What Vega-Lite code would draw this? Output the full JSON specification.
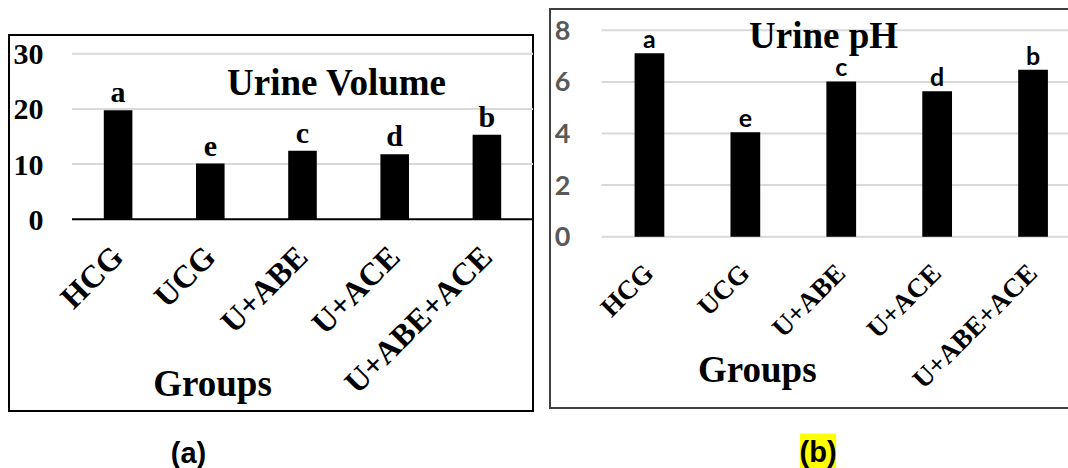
{
  "$schema": "https://vega.github.io/schema/vega-lite/v6.json",
  "padding": {"left": 8, "top": 8, "right": 0, "bottom": 0},
  "spacing": 14,
  "background": "white",
  "config": {
    "axis": {"grid": false, "domain": false, "ticks": false, "tickSize": 0, "labelLimit": 0}
  },
  "hconcat": [
    {
      "spacing": 0,
      "vconcat": [
        {
          "width": 524,
          "height": 25,
          "view": {"stroke": null},
          "data": {"values": []},
          "mark": "point"
        },
        {
          "width": 524,
          "height": 376,
          "view": {"stroke": "#000000", "strokeWidth": 2},
          "layer": [
            {
              "data": {"values": [{"v": 10}, {"v": 20}, {"v": 30}]},
              "mark": {"type": "rule", "color": "#d9d9d9", "strokeWidth": 2},
              "encoding": {
                "y": {
                  "field": "v", "type": "quantitative",
                  "scale": {"domain": [-34.73, 33.39], "nice": false, "zero": false},
                  "axis": {"values": [0, 10, 20, 30], "title": null, "offset": -35, "labelPadding": 1,
                           "labelFont": "Liberation Serif", "labelFontWeight": "bold", "labelFontSize": 30,
                           "labelColor": "#000000", "labelOffset": 1}
                },
                "x": {
                  "datum": "HCG", "type": "nominal", "bandPosition": 0,
                  "scale": {"domain": ["HCG", "UCG", "U+ABE", "U+ACE", "U+ABE+ACE"], "paddingInner": 0, "paddingOuter": 0.3416, "align": 1},
                  "axis": {"title": "Groups", "offset": -191.7, "labelAngle": -45, "labelAlign": "right", "labelBaseline": "middle",
                           "labelPadding": 32, "labelFont": "Liberation Serif", "labelFontWeight": "bold", "labelFontSize": 32,
                           "labelColor": "#000000", "labelLimit": 0, "titleFont": "Liberation Serif", "titleFontWeight": "bold", "titleFontSize": 37,
                           "titleColor": "#000000", "titleX": 203, "titleY": 175.7, "titleAlign": "center", "titleBaseline": "alphabetic"}
                },
                "x2": {"value": "width"}
              }
            },
            {
              "data": {"values": [{"v": 0}]},
              "mark": {"type": "rule", "color": "#000000", "strokeWidth": 2},
              "encoding": {
                "y": {"field": "v", "type": "quantitative", "title": null},
                "x": {"datum": "HCG", "type": "nominal", "bandPosition": 0},
                "x2": {"value": "width"}
              }
            },
            {
              "data": {"values": [
                {"group": "HCG", "value": 19.75, "letter": "a"},
                {"group": "UCG", "value": 10.1, "letter": "e"},
                {"group": "U+ABE", "value": 12.4, "letter": "c"},
                {"group": "U+ACE", "value": 11.8, "letter": "d"},
                {"group": "U+ABE+ACE", "value": 15.3, "letter": "b"}
              ]},
              "layer": [
                {
                  "mark": {"type": "bar", "color": "#000000", "width": {"band": 0.31}},
                  "encoding": {
                    "x": {"field": "group", "type": "nominal", "sort": null},
                    "y": {"field": "value", "type": "quantitative", "title": null},
                    "y2": {"datum": 0}
                  }
                },
                {
                  "mark": {"type": "text", "font": "Liberation Serif", "fontWeight": "bold", "fontSize": 30, "baseline": "alphabetic", "dy": -8, "color": "#000000"},
                  "encoding": {
                    "x": {"field": "group", "type": "nominal", "sort": null},
                    "y": {"field": "value", "type": "quantitative", "title": null},
                    "text": {"field": "letter"}
                  }
                }
              ]
            },
            {
              "data": {"values": [{"t": "Urine Volume"}]},
              "mark": {"type": "text", "font": "Liberation Serif", "fontWeight": "bold", "fontSize": 37, "baseline": "alphabetic", "align": "center", "color": "#000000"},
              "encoding": {
                "x": {"datum": "U+ABE", "type": "nominal", "bandPosition": 0.869},
                "y": {"datum": 22.46, "type": "quantitative"},
                "text": {"field": "t"}
              }
            },
            {
              "data": {"values": [{"t": "(a)"}]},
              "mark": {"type": "text", "font": "Liberation Sans Narrow, Liberation Sans", "fontWeight": "bold", "fontSize": 29, "baseline": "middle", "align": "center", "color": "#000000"},
              "encoding": {
                "x": {"datum": "UCG", "type": "nominal", "bandPosition": 0.264},
                "y": {"datum": -42.5, "type": "quantitative"},
                "text": {"field": "t"}
              }
            }
          ]
        }
      ]
    },
    {
      "width": 531,
      "height": 399,
      "view": {"stroke": "#404040", "strokeWidth": 2},
      "layer": [
        {
          "data": {"values": [{"v": 0}, {"v": 2}, {"v": 4}, {"v": 6}, {"v": 8}]},
          "mark": {"type": "rule", "color": "#d9d9d9", "strokeWidth": 2},
          "encoding": {
            "y": {
              "field": "v", "type": "quantitative",
              "scale": {"domain": [-6.64, 8.826], "nice": false, "zero": false},
              "axis": {"values": [0, 2, 4, 6, 8], "title": null, "offset": -21, "labelPadding": 1,
                       "labelFont": "Lato", "labelFontWeight": "bold", "labelFontSize": 27,
                       "labelColor": "#595959", "labelOffset": 1}
            },
            "x": {
              "datum": "HCG", "type": "nominal", "bandPosition": 0,
              "scale": {"domain": ["HCG", "UCG", "U+ABE", "U+ACE", "U+ABE+ACE"], "paddingInner": 0, "paddingOuter": 0.2685, "align": 1},
              "axis": {"title": "Groups", "offset": -171.3, "labelAngle": -45, "labelAlign": "right", "labelBaseline": "middle",
                       "labelPadding": 32, "labelFont": "Liberation Serif", "labelFontWeight": "bold", "labelFontSize": 27,
                       "labelColor": "#000000", "labelLimit": 0, "titleFont": "Liberation Serif", "titleFontWeight": "bold", "titleFontSize": 37,
                       "titleColor": "#000000", "titleX": 206.8, "titleY": 144.3, "titleAlign": "center", "titleBaseline": "alphabetic"}
            },
            "x2": {"value": "width"}
          }
        },
        {
          "data": {"values": [
            {"group": "HCG", "value": 7.11, "letter": "a"},
            {"group": "UCG", "value": 4.05, "letter": "e"},
            {"group": "U+ABE", "value": 6.02, "letter": "c"},
            {"group": "U+ACE", "value": 5.64, "letter": "d"},
            {"group": "U+ABE+ACE", "value": 6.47, "letter": "b"}
          ]},
          "layer": [
            {
              "mark": {"type": "bar", "color": "#000000", "width": {"band": 0.31}},
              "encoding": {
                "x": {"field": "group", "type": "nominal", "sort": null},
                "y": {"field": "value", "type": "quantitative", "title": null},
                "y2": {"datum": 0}
              }
            },
            {
              "mark": {"type": "text", "font": "Lato", "fontWeight": "bold", "fontSize": 25, "baseline": "alphabetic", "dy": -5, "color": "#000000"},
              "encoding": {
                "x": {"field": "group", "type": "nominal", "sort": null},
                "y": {"field": "value", "type": "quantitative", "title": null},
                "text": {"field": "letter"}
              }
            }
          ]
        },
        {
          "data": {"values": [{"t": "Urine pH"}]},
          "mark": {"type": "text", "font": "Liberation Serif", "fontWeight": "bold", "fontSize": 37, "baseline": "alphabetic", "align": "center", "color": "#000000"},
          "encoding": {
            "x": {"datum": "U+ABE", "type": "nominal", "bandPosition": 0.315},
            "y": {"datum": 7.3, "type": "quantitative"},
            "text": {"field": "t"}
          }
        },
        {
          "data": {"values": [{"t": "(b)"}]},
          "layer": [
            {
              "mark": {"type": "point", "shape": "square", "filled": true, "color": "#ffff00", "opacity": 1, "size": 1300},
              "encoding": {
                "x": {"datum": "U+ABE", "type": "nominal", "bandPosition": 0.258},
                "y": {"datum": -8.33, "type": "quantitative"}
              }
            },
            {
              "mark": {"type": "text", "font": "Liberation Sans Narrow, Liberation Sans", "fontWeight": "bold", "fontSize": 29, "baseline": "middle", "align": "center", "color": "#000000"},
              "encoding": {
                "x": {"datum": "U+ABE", "type": "nominal", "bandPosition": 0.258},
                "y": {"datum": -8.38, "type": "quantitative"},
                "text": {"field": "t"}
              }
            }
          ]
        }
      ]
    }
  ]
}
